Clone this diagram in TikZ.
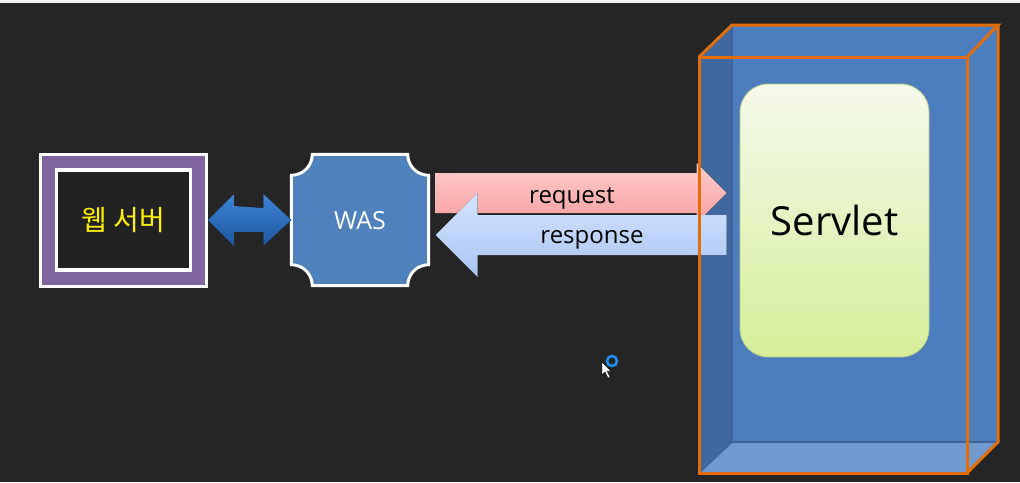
\documentclass[tikz,border=0pt]{standalone}
\usepackage{fontspec}
\setmainfont{Open Sans}
\newfontfamily\krfont{Noto Sans CJK KR}
\usetikzlibrary{calc}
\definecolor{bg}{RGB}{37,37,37}
\definecolor{innerbg}{RGB}{34,34,34}
\definecolor{webpurple}{RGB}{128,100,162}
\definecolor{wasblue}{RGB}{79,129,189}
\definecolor{cubeblue}{RGB}{76,126,190}
\definecolor{cubeleft}{RGB}{62,104,158}
\definecolor{cubebottom}{RGB}{112,154,205}
\definecolor{cubeedge}{RGB}{60,100,152}
\definecolor{orangeedge}{RGB}{228,108,10}
\definecolor{webyellow}{RGB}{255,242,0}
\definecolor{dblTop}{RGB}{62,132,216}
\definecolor{dblBot}{RGB}{30,86,156}
\definecolor{reqTop}{RGB}{255,204,204}
\definecolor{reqBot}{RGB}{248,160,160}
\definecolor{resTop}{RGB}{212,228,255}
\definecolor{resBot}{RGB}{168,198,245}
\definecolor{servTop}{RGB}{245,250,234}
\definecolor{servBot}{RGB}{214,238,154}
\definecolor{servEdge}{RGB}{180,205,130}
\definecolor{ringblue}{RGB}{30,140,240}
\tikzset{
  webouter/.style={draw=white, line width=3pt, fill=webpurple, minimum width=166pt, minimum height=132pt, inner sep=0pt},
  webinner/.style={draw=white, line width=3.5pt, fill=innerbg, minimum width=134pt, minimum height=100pt, inner sep=0pt, text=webyellow, font=\krfont\fontsize{28}{32}\selectfont},
  wasbox/.style={minimum width=137pt, minimum height=131pt, inner sep=0pt},
  wastext/.style={text=white, font=\fontsize{25}{30}\selectfont, inner sep=0pt},
  plaque/.style={draw=white, line width=3pt, fill=wasblue},
  dblarrow/.style={top color=dblTop, bottom color=dblBot},
  reqarrow/.style={top color=reqTop, bottom color=reqBot},
  resarrow/.style={top color=resTop, bottom color=resBot},
  arrowtext/.style={text=black, font=\fontsize{24}{28}\selectfont, inner sep=0pt},
  servletbox/.style={rounded corners=28pt, top color=servTop, bottom color=servBot, draw=servEdge, line width=0.8pt, minimum width=189pt, minimum height=273pt, inner sep=0pt, font=\fontsize{40}{46}\selectfont, text=black},
  oedge/.style={draw=orangeedge, line width=3pt, line join=miter},
  faint/.style={draw=cubeedge, line width=1.5pt}
}
\begin{document}
\begin{tikzpicture}[x=1pt,y=-1pt]
\useasboundingbox (0,0) rectangle (1020,482);
\fill[bg] (0,0) rectangle (1020,482);
\fill[white!95!black] (0,0) rectangle (1020,3);
\fill[black!85] (0,3) rectangle (1020,5);

% cube faces
\fill[cubeblue] (732,25) rectangle (998,442);
\fill[cubeblue] (699,57) -- (732,25) -- (998,25) -- (967,57) -- cycle;
\fill[cubeblue] (967,57) -- (998,25) -- (998,442) -- (967,473) -- cycle;
\fill[cubeleft] (699,57) -- (732,25) -- (732,442) -- (699,473) -- cycle;
\fill[cubebottom] (699,473) -- (732,442) -- (998,442) -- (967,473) -- cycle;
\draw[faint] (732,25) -- (732,442) -- (998,442);
\draw[faint] (732,442) -- (699,473);

% web server
\node[webouter] (web) at (123.5,220) {};
\node[webinner] (webin) at (123.5,220) {웹 서버};

% WAS
\path node[wasbox] (was) at (360,220) {};
\draw[plaque] ($(was.north west)+(21,0)$) -- ($(was.north east)+(-21,0)$)
  arc[start angle=180,end angle=90,radius=21]
  -- ($(was.south east)+(0,-21)$)
  arc[start angle=270,end angle=180,radius=21]
  -- ($(was.south west)+(21,0)$)
  arc[start angle=0,end angle=-90,radius=21]
  -- ($(was.north west)+(0,21)$)
  arc[start angle=90,end angle=0,radius=21] -- cycle;
\node[wastext] (waslabel) at ($(was.center)+(0,1)$) {WAS};

% double arrow web <-> WAS
\fill[dblarrow] (web.east) -- ++(26,-26) -- ++(0,12)
  -- ($(was.west)+(-28,-12)$) -- ++(0,-14) -- (was.west) -- ++(-28,26) -- ++(0,-14)
  -- ($(web.east)+(26,12)$) -- ++(0,14) -- cycle;

% Servlet
\node[servletbox] (servlet) at (834.5,220.5) {Servlet};

% request arrow
\coordinate (reqS) at ($(was.east)+(7,-27)$);
\coordinate (reqE) at ($(servlet.west)+(-13,-27.5)$);
\fill[reqarrow] ($(reqS)+(0,-20)$) -- ($(reqE)+(-30,-20)$) -- ($(reqE)+(-30,-30)$)
  -- (reqE) -- ($(reqE)+(-30,30)$) -- ($(reqE)+(-30,20)$) -- ($(reqS)+(0,20)$) -- cycle;
\node[arrowtext] (reqlabel) at (572,198) {request};

% response arrow
\coordinate (resE) at ($(was.east)+(7,15)$);
\coordinate (resS) at ($(servlet.west)+(-13,14.5)$);
\fill[resarrow] (resE) -- ($(resE)+(42,-42)$) -- ($(resE)+(42,-20)$) -- ($(resS)+(0,-20)$)
  -- ($(resS)+(0,20)$) -- ($(resE)+(42,20)$) -- ($(resE)+(42,42)$) -- cycle;
\node[arrowtext] (reslabel) at (592,240) {response};

% orange cube edges
\draw[oedge] (699,57) rectangle (967,473);
\draw[oedge] (699,57) -- (732,25) -- (998,25) -- (967,57);
\draw[oedge] (998,25) -- (998,442) -- (967,473);

% cursor
\draw[ringblue, line width=2.6pt] (612,361) circle[radius=5];
\fill[white, draw=black, line width=0.4pt] (602,362) -- (602,375) -- (605,372) -- (608,378) -- (610,377) -- (607,371) -- (611,371) -- cycle;
\end{tikzpicture}
\end{document}
